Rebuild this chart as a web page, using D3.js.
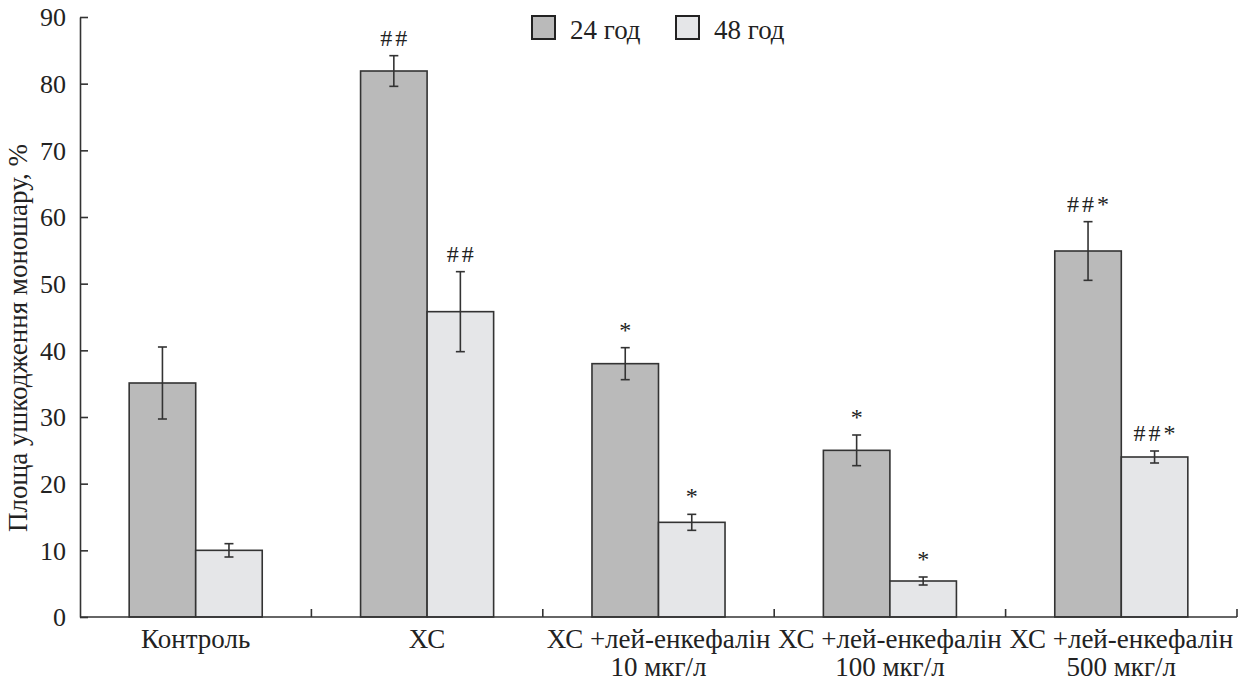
<!DOCTYPE html>
<html>
<head>
<meta charset="utf-8">
<script src="https://cdn.jsdelivr.net/npm/d3@7"></script>
<style>
  body { margin: 0; background: #fff; }
</style>
</head>
<body>
<svg id="chart" width="1252" height="682"></svg>
<script>
// chart data
let categories = ["Контроль", "ХС", "ХС +лей-енкефалін|10 мкг/л", "ХС +лей-енкефалін|100 мкг/л", "ХС +лей-енкефалін|500 мкг/л"];
let seriesNames = ["24 год", "48 год"];
let values24 = [35.1, 81.9, 38.0, 25.0, 54.9];
let errors24 = [5.4, 2.3, 2.4, 2.3, 4.4];
let values48 = [10.0, 45.8, 14.2, 5.4, 24.0];
let errors48 = [1.0, 6.0, 1.2, 0.6, 0.9];
let marks24 = ["", "##", "*", "*", "##*"];
let marks48 = ["", "##", "*", "*", "##*"];
let yTicks = [0, 10, 20, 30, 40, 50, 60, 70, 80, 90];

let colors = {"24 год": "#bababa", "48 год": "#e5e6e8"};
let stroke = "#333";
let font = "'Liberation Serif'";
let textColor = "#222";

let svg = d3.select("#chart");
let margin = {top: 17, right: 15, bottom: 65, left: 80};
let width = 1252 - margin.left - margin.right;
let height = 682 - margin.top - margin.bottom;

let g = svg.append("g").attr("transform", "translate(" + margin.left + "," + margin.top + ")");

let x0 = d3.scaleBand().domain(categories).range([0, width]).padding(0);
let groupWidth = x0.bandwidth() * 0.575;
let x1 = d3.scaleBand().domain(seriesNames)
    .range([(x0.bandwidth() - groupWidth) / 2, (x0.bandwidth() + groupWidth) / 2]).padding(0);
let y = d3.scaleLinear().domain([0, 90]).range([height, 0]);

// rows for bars
let rows = [];
categories.forEach((c, i) => {
    rows.push({cat: c, s: "24 год", v: values24[i], e: errors24[i], m: marks24[i]});
    rows.push({cat: c, s: "48 год", v: values48[i], e: errors48[i], m: marks48[i]});
});

// bars
g.selectAll("rect.bar").data(rows).enter().append("rect")
    .attr("class", "bar")
    .attr("x", d => x0(d.cat) + x1(d.s))
    .attr("y", d => y(d.v))
    .attr("width", x1.bandwidth())
    .attr("height", d => y(0) - y(d.v))
    .attr("fill", d => colors[d.s])
    .attr("stroke", stroke)
    .attr("stroke-width", 1.6);

// error bars
let cx = d => x0(d.cat) + x1(d.s) + x1.bandwidth() / 2;
let eb = g.selectAll("g.err").data(rows).enter().append("g").attr("class", "err")
    .attr("stroke", stroke).attr("stroke-width", 1.6);
eb.append("line").attr("x1", cx).attr("x2", cx).attr("y1", d => y(d.v + d.e)).attr("y2", d => y(d.v - d.e));
eb.append("line").attr("x1", d => cx(d) - 4.5).attr("x2", d => cx(d) + 4.5).attr("y1", d => y(d.v + d.e)).attr("y2", d => y(d.v + d.e));
eb.append("line").attr("x1", d => cx(d) - 4.5).attr("x2", d => cx(d) + 4.5).attr("y1", d => y(d.v - d.e)).attr("y2", d => y(d.v - d.e));

// significance marks
g.selectAll("text.mark").data(rows.filter(d => d.m)).enter().append("text")
    .attr("class", "mark")
    .attr("x", d => cx(d) + 1.5)
    .attr("y", d => y(d.v + d.e) - 10)
    .attr("text-anchor", "middle")
    .style("font-family", font)
    .style("fill", textColor)
    .style("font-size", "24px")
    .style("letter-spacing", "3px")
    .text(d => d.m);

// y axis
let yAxis = g.append("g")
    .call(d3.axisLeft(y).tickValues(yTicks).tickSizeInner(-8).tickSizeOuter(0).tickPadding(14));
yAxis.attr("font-family", null);
yAxis.selectAll("line, path").attr("stroke", stroke).attr("stroke-width", 1.6);
yAxis.selectAll("text")
    .style("font-family", font)
    .style("fill", textColor)
    .style("font-size", "26px")
    .attr("dy", "0.34em");

// x axis line and category ticks
let xAxis = g.append("g").attr("transform", "translate(0," + height + ")");
xAxis.append("line").attr("x1", 0).attr("x2", width).attr("y1", 0).attr("y2", 0)
    .attr("stroke", stroke).attr("stroke-width", 1.6);
xAxis.selectAll("line.tick").data(categories).enter().append("line")
    .attr("class", "tick")
    .attr("x1", d => x0(d) + x0.bandwidth()).attr("x2", d => x0(d) + x0.bandwidth())
    .attr("y1", 0).attr("y2", -8)
    .attr("stroke", stroke).attr("stroke-width", 1.6);

let labels = xAxis.selectAll("text.cat").data(categories).enter().append("text")
    .attr("class", "cat")
    .attr("x", d => x0(d) + x0.bandwidth() / 2)
    .attr("y", 31)
    .attr("text-anchor", "middle")
    .style("font-family", font)
    .style("fill", textColor)
    .style("font-size", "27px");
labels.selectAll("tspan").data(d => d.split("|")).enter().append("tspan")
    .attr("x", function () { return d3.select(this.parentNode).attr("x"); })
    .attr("dy", (d, i) => i === 0 ? 0 : 28)
    .text(d => d);

// y axis title
svg.append("text")
    .attr("transform", "translate(27,338) rotate(-90)")
    .attr("text-anchor", "middle")
    .style("font-family", font)
    .style("fill", textColor)
    .style("font-size", "27px")
    .text("Площа ушкодження моношару, %");

// legend
let legend = svg.append("g");
let legendX = [532, 676];
seriesNames.forEach((s, i) => {
    legend.append("rect")
        .attr("x", legendX[i]).attr("y", 16).attr("width", 23).attr("height", 23)
        .attr("fill", colors[s]).attr("stroke", "#222").attr("stroke-width", 2);
    legend.append("text")
        .attr("x", legendX[i] + 38).attr("y", 39)
        .style("font-family", font)
        .style("fill", textColor)
        .style("font-size", "27px")
        .text(s);
});
</script>
</body>
</html>
